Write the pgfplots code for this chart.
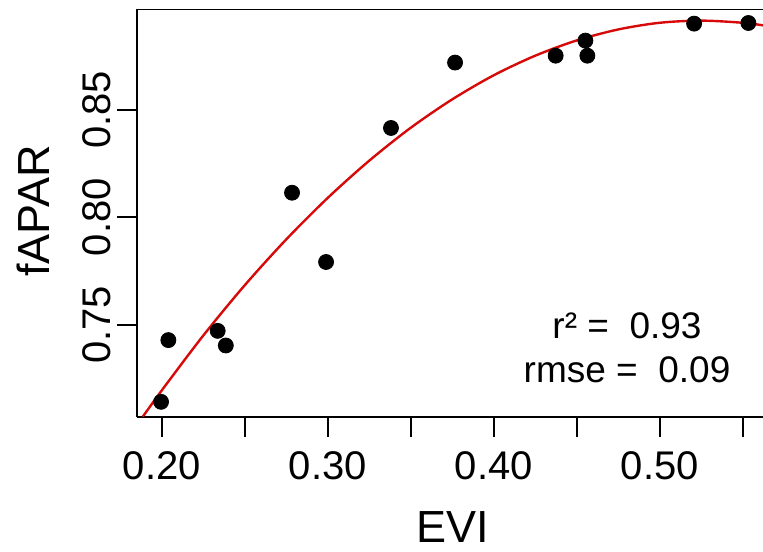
\documentclass[border=0pt]{standalone}
\usepackage{pgfplots}
\pgfplotsset{compat=1.18}
\usepackage{fontspec}
\setmainfont{Liberation Sans}
\definecolor{fitred}{RGB}{215,10,10}

\begin{document}
\begin{tikzpicture}
\begin{axis}[
  scale only axis,
  width=313pt, height=203.85pt,
  xmin=0.1851, xmax=0.5622,
  ymin=0.7073, ymax=0.8968,
  axis x line*=bottom, axis y line*=left,
  axis line style={line width=1pt, -},
  tick style={line width=1pt, black},
  tick align=outside,
  major tick length=10pt,
  xtick={0.20,0.25,0.30,0.35,0.40,0.45,0.50,0.55},
  xticklabels={0.20,,0.30,,0.40,,0.50,},
  ytick={0.75,0.80,0.85},
  yticklabels={0.75,0.80,0.85},
  ticklabel style={font=\fontsize{20}{24}\selectfont},
  xticklabel style={anchor=north, inner sep=0pt, yshift=-7pt},
  yticklabel style={rotate=90, anchor=south, inner sep=0pt, yshift=3pt},
  xlabel={EVI}, ylabel={fAPAR},
  label style={font=\fontsize{22.5}{27}\selectfont, inner sep=0pt},
  xlabel style={at={(axis description cs:0.505,0)}, anchor=base, yshift=-63pt},
  ylabel style={at={(axis description cs:0,0.505)}, anchor=base, yshift=43.5pt},
  clip=true,
]
% quadratic fit of fAPAR against EVI
\addplot[fitred, line width=1.2pt, smooth] coordinates {
  (0.1886,0.7073) (0.200,0.7195) (0.225,0.7450) (0.250,0.7684)
  (0.275,0.7897) (0.300,0.8090) (0.325,0.8263) (0.350,0.8416)
  (0.375,0.8548) (0.400,0.8660) (0.425,0.8751) (0.450,0.8822)
  (0.475,0.8873) (0.500,0.8904) (0.525,0.8914) (0.550,0.8904)
  (0.5622,0.8892)
};
% observations
\addplot[only marks, mark=*, mark size=3.75pt, black] coordinates {
  (0.1996,0.7142) (0.2040,0.7429) (0.2337,0.7472) (0.2386,0.7404)
  (0.2785,0.8114) (0.2990,0.7792) (0.3381,0.8415) (0.3767,0.8719)
  (0.4373,0.8751) (0.4552,0.8821) (0.4564,0.8751) (0.5207,0.8900)
  (0.5534,0.8903)
};
\node[font=\fontsize{18.5}{23}\selectfont, align=center] at (axis cs:0.4803,0.7395)
  {r²~=~~0.93\\[-1pt]rmse~=~~0.09};
\draw[line width=1pt] (rel axis cs:0,1) -- (rel axis cs:1,1);
\coordinate (bl) at (rel axis cs:0,0);
\coordinate (tr) at (rel axis cs:1,1);
\end{axis}
\pgfresetboundingbox
\path[use as bounding box] ([xshift=-68.5pt,yshift=-67.65pt]bl) rectangle ([yshift=4.5pt]tr);
\end{tikzpicture}
\end{document}
